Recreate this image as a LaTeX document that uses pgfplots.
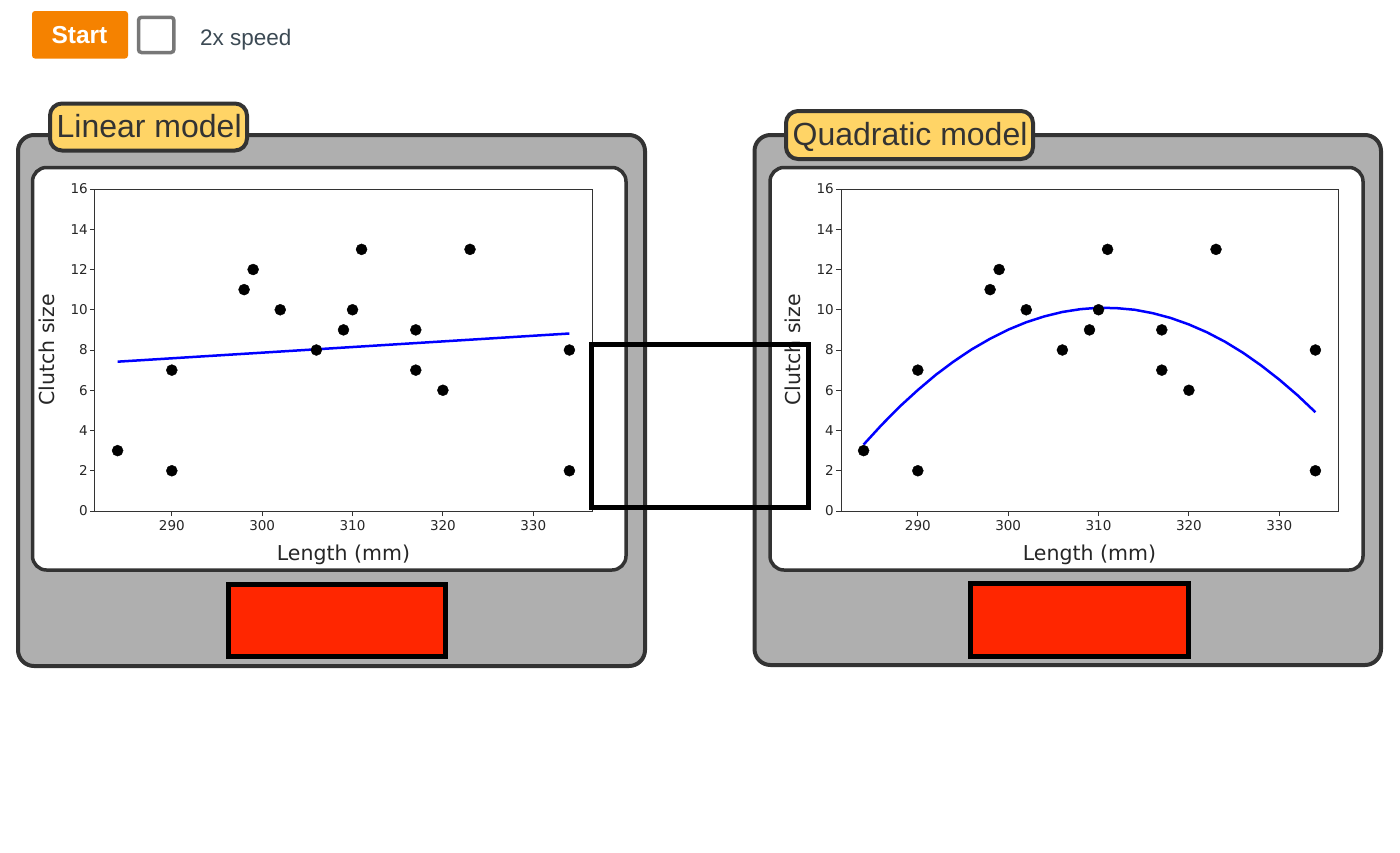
\documentclass[border=0pt]{standalone}
\usepackage{pgfplots}
\pgfplotsset{compat=1.18}
\usepackage{fontspec}
\setmainfont{Liberation Sans}
\newfontfamily\dv{DejaVu Sans}
\newfontfamily\lib{Liberation Sans}
\definecolor{panelgray}{HTML}{AFAFAF}
\definecolor{edge}{HTML}{333333}
\definecolor{labelyellow}{HTML}{FFD466}
\definecolor{redbox}{HTML}{FF2600}
\definecolor{startorange}{HTML}{F58200}
\definecolor{chkgray}{HTML}{777777}
\definecolor{speedtext}{HTML}{3C4A54}

\pgfplotstableread{
x y
284 3
290 7
290 2
298 11
299 12
302 10
306 8
309 9
310 10
311 13
317 9
317 7
320 6
323 13
334 8
334 2
}\clutch

\pgfplotstableread{
x y
284 7.42
334 8.82
}\linfit

\pgfplotstableread{
x y
284 3.30
286 4.28
288 5.19
290 6.01
292 6.77
294 7.44
296 8.04
298 8.56
300 9.01
302 9.38
304 9.67
306 9.89
308 10.03
310 10.10
312 10.08
314 10.00
316 9.83
318 9.59
320 9.27
322 8.88
324 8.41
326 7.86
328 7.23
330 6.53
332 5.76
334 4.91
}\quadfit

\pgfplotsset{
  scatterax/.style={
    anchor=south west, scale only axis, width=497pt, height=322pt,
    xmin=281.5, xmax=336.5, ymin=0, ymax=16,
    xtick={290,300,310,320,330}, ytick={0,2,4,6,8,10,12,14,16},
    tick pos=left,
    tick align=outside, major tick length=5pt,
    tick style={black!80, line width=0.9pt},
    axis line style={black!80, line width=1pt},
    axis background/.style={fill=white},
    /pgf/number format/assume math mode=true,
    ticklabel style={font=\dv\fontsize{13.5}{15}\selectfont, text=black!85},
    xticklabel style={anchor=north, inner sep=0pt, yshift=-4pt},
    yticklabel style={anchor=east, inner sep=0pt, xshift=-2pt},
    xlabel={Length (mm)}, ylabel={Clutch size},
    label style={font=\dv\fontsize{20.5}{24}\selectfont, text=black!85},
    xlabel style={at={(axis description cs:0.5,-0.1522)}, anchor=base, inner sep=0pt},
    ylabel style={at={(axis description cs:-0.0805,0.5)}, anchor=base, inner sep=0pt},
  }
}

\begin{document}
\begin{tikzpicture}
% background
\path[fill=white] (0pt,0pt) rectangle (1400pt,-852pt);

% start button, checkbox, speed text
\fill[startorange, rounded corners=3pt] (32pt,-11pt) rectangle (128pt,-58.5pt);
\node[anchor=base, inner sep=0pt, text=white, font=\lib\bfseries\fontsize{24.5}{28}\selectfont] at (79.5pt,-43.5pt) {Start};
\draw[chkgray, line width=3.5pt, fill=white, rounded corners=3pt] (138.5pt,-17.3pt) rectangle (173.9pt,-52.5pt);
\node[anchor=base west, inner sep=0pt, text=speedtext, font=\lib\fontsize{22.5}{26}\selectfont] at (200pt,-45pt) {2x speed};

% left panel
\draw[edge, line width=4pt, fill=panelgray, rounded corners=16pt] (18pt,-135pt) rectangle (645pt,-666pt);
\draw[edge, line width=3.5pt, fill=white, rounded corners=14pt] (32.5pt,-167.5pt) rectangle (626pt,-570pt);
\draw[edge, line width=4pt, fill=labelyellow, rounded corners=12pt] (50pt,-103.5pt) rectangle (247pt,-150.5pt);
\node[anchor=base west, inner sep=0pt, text=edge, font=\lib\fontsize{32}{38}\selectfont] at (56.5pt,-137.7pt) {Linear model};
\draw[black, line width=5pt, fill=redbox] (228.5pt,-584.5pt) rectangle (445.5pt,-656.5pt);

% right panel
\draw[edge, line width=4pt, fill=panelgray, rounded corners=16pt] (754.5pt,-135pt) rectangle (1381pt,-665pt);
\draw[edge, line width=3.5pt, fill=white, rounded corners=14pt] (770pt,-167.5pt) rectangle (1363pt,-570pt);
\draw[edge, line width=4pt, fill=labelyellow, rounded corners=12pt] (786pt,-111pt) rectangle (1033pt,-159pt);
\node[anchor=base west, inner sep=0pt, text=edge, font=\lib\fontsize{32}{38}\selectfont] at (792.5pt,-145.7pt) {Quadratic model};
\draw[black, line width=5pt, fill=redbox] (970.5pt,-583.5pt) rectangle (1188pt,-656.5pt);

% linear model plot
\begin{axis}[scatterax, at={(95pt,-511pt)}]
\addplot[blue, line width=2.5pt] table[x=x, y=y] {\linfit};
\addplot[only marks, mark=*, mark size=5.5pt, black] table[x=x, y=y] {\clutch};
\end{axis}

% quadratic model plot
\begin{axis}[scatterax, at={(841pt,-511pt)}]
\addplot[blue, line width=2.5pt] table[x=x, y=y] {\quadfit};
\addplot[only marks, mark=*, mark size=5.5pt, black] table[x=x, y=y] {\clutch};
\end{axis}

% overlay rectangle
\draw[black, line width=5pt] (591.5pt,-344.5pt) rectangle (808.5pt,-507.5pt);
\end{tikzpicture}
\end{document}
